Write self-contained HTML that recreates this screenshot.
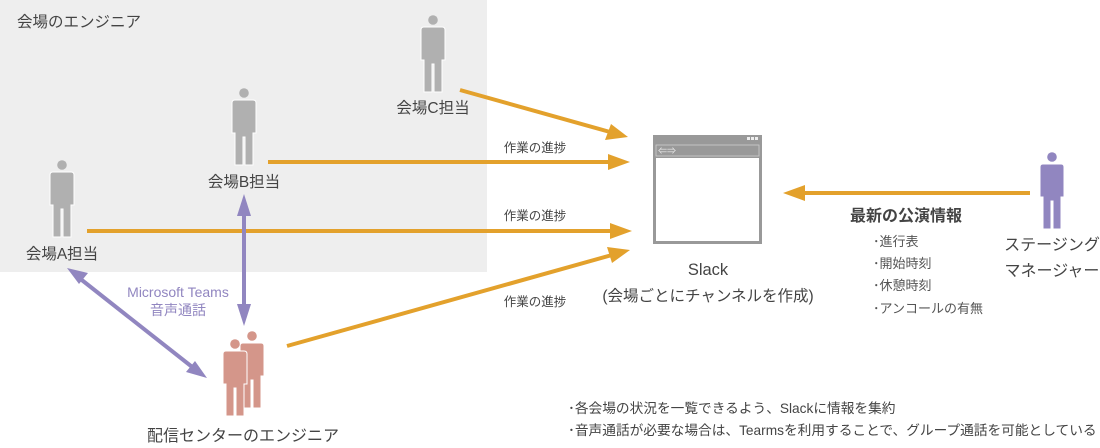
<!DOCTYPE html>
<html><head><meta charset="utf-8"><style>
html,body{margin:0;padding:0;background:#fff;}
svg{display:block;font-family:"Liberation Sans","Noto Sans CJK JP",sans-serif;}
</style></head><body>
<svg width="1100" height="448" viewBox="0 0 1100 448" xmlns="http://www.w3.org/2000/svg">
<defs>
<g id="p">
<circle cx="0" cy="0" r="4.8"/>
<path d="M-12 10 Q-12 7 -9 7 L9 7 Q12 7 12 10 L12 40 L9 40 L9 72 L1 72 L1 44 L-1 44 L-1 72 L-9 72 L-9 40 L-12 40 Z" stroke="#fff" stroke-width="1"/>
</g>
</defs>
<rect x="0" y="0" width="487" height="272" fill="#eeeeee"/>
<text x="17" y="27" font-size="15.5" fill="#444">会場のエンジニア</text>

<g fill="#b0b0b0">
<use href="#p" x="433" y="20"/>
<use href="#p" x="244" y="93"/>
<use href="#p" x="62" y="165"/>
</g>
<g fill="#9186c0"><use href="#p" x="1052" y="157"/></g>
<g fill="#d4968a">
<use href="#p" x="252" y="336"/>
<use href="#p" x="235" y="344"/>
</g>

<g font-size="15.5" fill="#444" text-anchor="middle">
<text x="433" y="113">会場C担当</text>
<text x="244" y="187">会場B担当</text>
<text x="62" y="259">会場A担当</text>
<text x="243" y="441" font-size="16">配信センターのエンジニア</text>
<text x="1052" y="250" font-size="16">ステージング</text>
<text x="1052" y="276" font-size="16">マネージャー</text>
<text x="708" y="275" font-size="16.5">Slack</text>
<text x="708" y="301" font-size="15.5">(会場ごとにチャンネルを作成)</text>
</g>

<g stroke="#e3a12c" stroke-width="4" fill="none">
<line x1="460" y1="90" x2="610" y2="132"/>
<line x1="268" y1="162" x2="610" y2="162"/>
<line x1="87" y1="231" x2="612" y2="231"/>
<line x1="287" y1="346" x2="612" y2="255"/>
<line x1="1030" y1="193" x2="800" y2="193"/>
</g>
<g fill="#e3a12c">
<polygon points="628,137 605,140 611,124"/>
<polygon points="630,162 608,154 608,170"/>
<polygon points="632,231 610,223 610,239"/>
<polygon points="630,250 612,263 607,247"/>
<polygon points="783,193 805,185 805,201"/>
</g>

<g stroke="#9186c0" stroke-width="4" fill="none">
<line x1="78" y1="277" x2="196" y2="370"/>
<line x1="244" y1="210" x2="244" y2="312"/>
</g>
<g fill="#9186c0">
<polygon points="67,268 88,273 79,284"/>
<polygon points="207,378 186,372 195,361"/>
<polygon points="244,194 237,216 251,216"/>
<polygon points="244,326 237,304 251,304"/>
</g>
<g font-size="14" fill="#9186c0" text-anchor="middle">
<text x="178" y="297">Microsoft Teams</text>
<text x="178" y="315">音声通話</text>
</g>

<g font-size="12.5" fill="#444" text-anchor="middle">
<text x="535" y="152">作業の進捗</text>
<text x="535" y="220">作業の進捗</text>
<text x="535" y="306">作業の進捗</text>
</g>

<rect x="653" y="135" width="109" height="109" fill="#999"/>
<rect x="656" y="145" width="103" height="11" fill="#999" stroke="#ccc" stroke-width="0.8"/>
<rect x="656" y="158" width="103" height="83" fill="#fff"/>
<g fill="#eee"><rect x="747" y="137" width="3" height="3"/><rect x="751" y="137" width="3" height="3"/><rect x="755" y="137" width="3" height="3"/></g>
<text x="658" y="154" font-size="9" fill="#eee">⇐⇒</text>

<text x="850" y="221" font-size="16" fill="#444" font-weight="bold">最新の公演情報</text>
<g font-size="13" fill="#555">
<text x="873" y="246">･進行表</text>
<text x="873" y="268">･開始時刻</text>
<text x="873" y="290">･休憩時刻</text>
<text x="873" y="313">･アンコールの有無</text>
</g>
<g font-size="13.7" fill="#444">
<text x="568" y="413">･各会場の状況を一覧できるよう、Slackに情報を集約</text>
<text x="568" y="435">･音声通話が必要な場合は、Tearmsを利用することで、グループ通話を可能としている</text>
</g>
</svg>
</body></html>
